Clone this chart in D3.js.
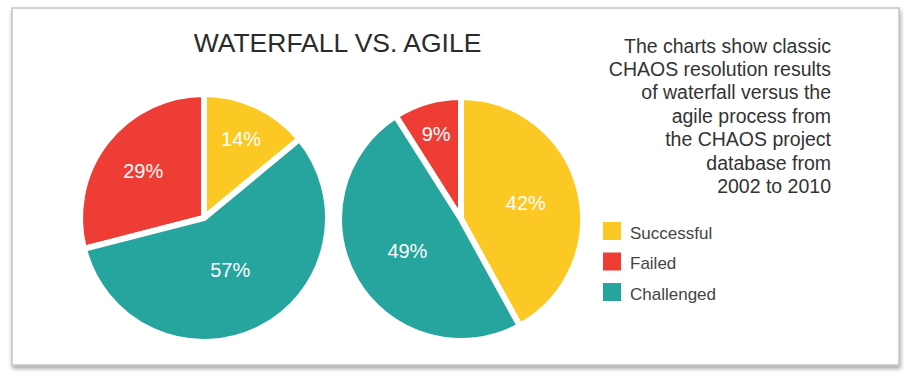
<!DOCTYPE html>
<html>
<head>
<meta charset="utf-8">
<script src="https://cdn.jsdelivr.net/npm/d3@7"></script>
<style>
  body { margin: 0; background: #fff; }
  svg { display: block; font-family: "Liberation Sans", Arial, sans-serif; }
</style>
</head>
<body>
<div id="chart"></div>
<script>
// data
var categories = ["Successful", "Failed", "Challenged"];
var sliceOrder = ["Successful", "Challenged", "Failed"];   // clockwise from 12 o'clock
var colors = ["#fcc823", "#ee3d35", "#26a49e"];
var waterfall = [14, 29, 57];
var agile = [42, 9, 49];
var titleText = "WATERFALL VS. AGILE";
var noteLines = ["The charts show classic", "CHAOS resolution results",
                 "of waterfall versus the", "agile process from",
                 "the CHAOS project", "database from", "2002 to 2010"];

var W = 911, H = 382;
var svg = d3.select("#chart").append("svg")
            .attr("width", W)
            .attr("height", H);

// frame with a soft shadow
var defs = svg.append("defs");
var f = defs.append("filter").attr("id", "shadow")
            .attr("x", "-5%").attr("y", "-5%")
            .attr("width", "110%").attr("height", "115%");
f.append("feDropShadow").attr("dx", 1).attr("dy", 3)
 .attr("stdDeviation", 2).attr("flood-color", "#000").attr("flood-opacity", 0.35);

svg.append("rect")
   .attr("x", 12).attr("y", 8)
   .attr("width", 887).attr("height", 357)
   .attr("fill", "#fff")
   .attr("stroke", "#c4c4c4")
   .attr("stroke-width", 1.5)
   .attr("filter", "url(#shadow)");

svg.append("text")
   .attr("x", 337.5).attr("y", 52)
   .attr("text-anchor", "middle")
   .attr("font-size", "26.5px")
   .attr("fill", "#2b2b2b")
   .text(titleText);

var color = d3.scaleOrdinal().domain(categories).range(colors);

var pie = d3.pie()
            .sort((a, b) => sliceOrder.indexOf(a.name) - sliceOrder.indexOf(b.name))
            .value(d => d.value);

function drawPie(values, cx, cy, r) {
    var rows = values.map((v, i) => ({ name: categories[i], value: v }));
    var total = d3.sum(values);
    var g = svg.append("g").attr("transform", "translate(" + cx + "," + cy + ")");
    var arc = d3.arc().innerRadius(0).outerRadius(r);
    var arcs = pie(rows);
    g.selectAll("path")
     .data(arcs)
     .enter().append("path")
     .attr("d", arc)
     .attr("fill", d => color(d.data.name))
     .attr("stroke", "#fff")
     .attr("stroke-width", 6)
     .attr("stroke-linejoin", "miter");
    // bigger slices get their label closer to the middle
    g.selectAll("text")
     .data(arcs)
     .enter().append("text")
     .attr("transform", function(d) {
         var frac = d.data.value / total;
         var lr = r * (0.78 - 0.55 * frac);
         var a = (d.startAngle + d.endAngle) / 2;
         return "translate(" + (Math.sin(a) * lr) + "," + (-Math.cos(a) * lr) + ")";
     })
     .attr("dy", "0.36em")
     .attr("text-anchor", "middle")
     .attr("font-size", "20px")
     .attr("fill", "#fff")
     .text(d => d.data.value + "%");
}

drawPie(waterfall, 204, 218, 124);
drawPie(agile, 461, 219, 122);

// note text on the right
var note = svg.append("text")
              .attr("text-anchor", "end")
              .attr("font-size", "19.5px")
              .attr("fill", "#333");
noteLines.forEach((t, i) => {
    note.append("tspan")
        .attr("x", 831)
        .attr("y", 52.5 + i * 23.4)
        .text(t);
});

// legend
var legend = svg.append("g").attr("transform", "translate(603,222)");
var item = legend.selectAll("g")
                 .data(categories)
                 .enter().append("g")
                 .attr("transform", (d, i) => "translate(0," + (i * 30.5) + ")");
item.append("rect")
    .attr("width", 18).attr("height", 18)
    .attr("fill", d => color(d));
item.append("text")
    .attr("x", 27).attr("y", 16.5)
    .attr("font-size", "17px")
    .attr("fill", "#444")
    .text(d => d);
</script>
</body>
</html>
